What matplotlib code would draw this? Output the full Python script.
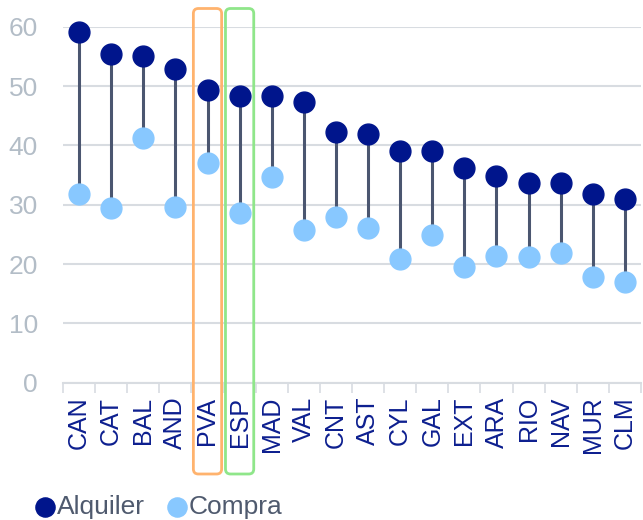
import matplotlib.pyplot as plt
from matplotlib.patches import FancyBboxPatch
from matplotlib.transforms import IdentityTransform
import numpy as np

plt.rcParams['font.family'] = ['Liberation Sans', 'DejaVu Sans']

regions = ['CAN', 'CAT', 'BAL', 'AND', 'PVA', 'ESP', 'MAD', 'VAL', 'CNT',
           'AST', 'CYL', 'GAL', 'EXT', 'ARA', 'RIO', 'NAV', 'MUR', 'CLM']
alquiler = [59.1, 55.4, 55.1, 52.8, 49.3, 48.4, 48.4, 47.3, 42.3,
            41.9, 39.1, 39.1, 36.2, 34.8, 33.7, 33.6, 31.8, 31.0]
compra = [31.8, 29.4, 41.3, 29.6, 37.0, 28.6, 34.6, 25.7, 27.9,
          26.1, 20.9, 24.9, 19.5, 21.4, 21.2, 21.9, 17.8, 16.9]
highlight = {'PVA': '#ffb36e', 'ESP': '#8fe68a'}

navy = '#00158c'
light = '#88c8ff'
grid_c = '#d8dce1'

fig = plt.figure(figsize=(6.43, 5.2), dpi=100)
ax = fig.add_axes([63 / 643, 1 - 382.7 / 520, 578 / 643, 356 / 520])

x = np.arange(len(regions))
ax.vlines(x, compra, alquiler, color='#4b5670', linewidth=2.2, zorder=2)
ax.scatter(x, alquiler, s=225, color=navy, zorder=3, clip_on=False, label='Alquiler')
ax.scatter(x, compra, s=225, color=light, zorder=3, clip_on=False, label='Compra')

ax.set_xlim(-0.5, len(regions) - 0.5)
ax.set_ylim(0, 60)
ax.set_yticks(range(0, 61, 10))
ax.set_xticks(x)
ax.set_xticklabels(regions, rotation=90, fontsize=18, color='#0d1f8f')
ax.set_xticks(np.arange(-0.5, len(regions), 1), minor=True)
ax.tick_params(axis='x', which='major', length=0, pad=10)
ax.tick_params(axis='x', which='minor', length=7, width=1.2, color=grid_c)
ax.tick_params(axis='y', length=0, pad=18, labelsize=19, labelcolor='#b3bdc7')
ax.grid(axis='y', color=grid_c, linewidth=1.5, zorder=0)
for s in ['left', 'right', 'top']:
    ax.spines[s].set_visible(False)
ax.spines['bottom'].set_color(grid_c)
ax.spines['bottom'].set_linewidth(1.5)

# rounded boxes around highlighted regions
fig.canvas.draw()
for name, col in highlight.items():
    i = regions.index(name)
    x0 = ax.transData.transform((i - 0.44, 0))[0]
    x1 = ax.transData.transform((i + 0.44, 0))[0]
    y_top = 520 - 8.5
    y_bot = 520 - 474
    box = FancyBboxPatch((x0, y_bot), x1 - x0, y_top - y_bot,
                         boxstyle='round,pad=0,rounding_size=5',
                         transform=IdentityTransform(), fill=False,
                         edgecolor=col, linewidth=2, zorder=5)
    fig.patches.append(box)

leg = fig.legend(loc='center left', bbox_to_anchor=(16 / 643, 1 - 507 / 520),
                 ncol=2, frameon=False, fontsize=19, handletextpad=-0.15,
                 columnspacing=0.62, borderpad=0, handlelength=1.2,
                 markerscale=0.92)
for t in leg.get_texts():
    t.set_color('#4f5a6e')

fig.savefig('out.png', dpi=100)
